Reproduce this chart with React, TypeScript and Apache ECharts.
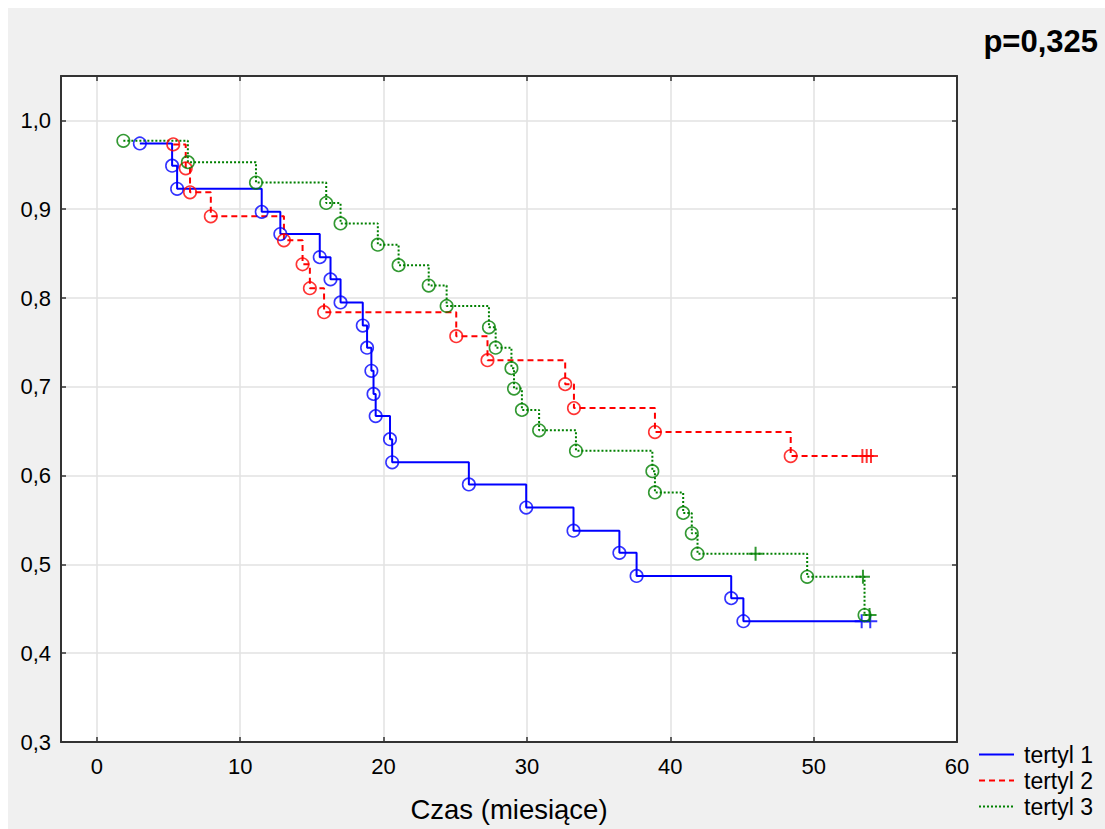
import React, { useEffect, useRef } from "react";
import * as echarts from "echarts";

const FONT = "'Liberation Sans', Arial, sans-serif";

const xTicks = [0, 10, 20, 30, 40, 50, 60];
const yTicks = [0.3, 0.4, 0.5, 0.6, 0.7, 0.8, 0.9, 1.0];

const seriesNames = ["tertyl 1", "tertyl 2", "tertyl 3"];

// tertyl 1 (blue, solid)
const t1EventTimes = [3.0, 5.25, 5.6, 11.5, 12.8, 15.55, 16.3, 17.0, 18.55, 18.85, 19.15, 19.3, 19.45, 20.45, 20.6, 25.95, 29.95, 33.25, 36.45, 37.65, 44.25, 45.1];
const t1EventSurv = [0.974, 0.949, 0.923, 0.897, 0.872, 0.846, 0.821, 0.795, 0.769, 0.744, 0.718, 0.692, 0.667, 0.641, 0.615, 0.59, 0.564, 0.538, 0.513, 0.487, 0.462, 0.436];
const t1CensTimes = [53.35, 53.95];
const t1CensSurv = [0.436, 0.436];

// tertyl 2 (red, dashed)
const t2EventTimes = [5.33, 6.2, 6.5, 7.95, 13.05, 14.35, 14.86, 15.85, 25.07, 27.25, 32.67, 33.28, 38.93, 48.4];
const t2EventSurv = [0.973, 0.946, 0.919, 0.892, 0.865, 0.838, 0.811, 0.784, 0.757, 0.73, 0.703, 0.676, 0.649, 0.622];
const t2CensTimes = [53.4, 53.7, 54.0];
const t2CensSurv = [0.622, 0.622, 0.622];

// tertyl 3 (green, dotted)
const t3EventTimes = [1.85, 6.35, 11.1, 16.0, 17.0, 19.6, 21.05, 23.15, 24.4, 27.35, 27.82, 28.92, 29.1, 29.65, 30.85, 33.42, 38.75, 38.93, 40.9, 41.5, 41.9, 49.55, 53.55];
const t3EventSurv = [0.977, 0.953, 0.93, 0.907, 0.884, 0.86, 0.837, 0.814, 0.791, 0.767, 0.744, 0.721, 0.698, 0.674, 0.651, 0.628, 0.605, 0.581, 0.558, 0.535, 0.512, 0.486, 0.443];
const t3CensTimes = [45.95, 53.44, 53.9];
const t3CensSurv = [0.512, 0.486, 0.443];

const colors = ["#0000ff", "#ff0000", "#008000"];
const lineTypes: any[] = ["solid", [6, 4], [2, 2]];

const PLUS = "path://M6,0h2v6h6v2h-6v6h-2v-6h-6v-2h6z";

const groups = [
  { ev: [t1EventTimes, t1EventSurv], ce: [t1CensTimes, t1CensSurv] },
  { ev: [t2EventTimes, t2EventSurv], ce: [t2CensTimes, t2CensSurv] },
  { ev: [t3EventTimes, t3EventSurv], ce: [t3CensTimes, t3CensSurv] },
];

const fmt = (v: number) => v.toFixed(1).replace(".", ",");

export default function App() {
  const ref = useRef<HTMLDivElement>(null);
  useEffect(() => {
    const chart = echarts.init(ref.current!, null, { renderer: "svg" });
    const series: any[] = [];
    groups.forEach((g, i) => {
      const ev = g.ev[0].map((t, k) => [t, g.ev[1][k]]);
      const ce = g.ce[0].map((t, k) => [t, g.ce[1][k]]);
      const merged = [...ev, ...ce].sort((a, b) => a[0] - b[0]);
      series.push({
        type: "line",
        name: seriesNames[i],
        step: "end",
        symbol: "none",
        data: merged,
        lineStyle: { color: colors[i], width: 2, type: lineTypes[i] },
        itemStyle: { color: colors[i] },
        silent: true,
        z: 3,
      });
      series.push({
        type: "scatter",
        name: seriesNames[i] + " events",
        symbol: "circle",
        symbolSize: 12.5,
        data: ev,
        itemStyle: { color: "rgba(0,0,0,0)", borderColor: colors[i], borderWidth: 1.6 },
        silent: true,
        z: 4,
      });
      series.push({
        type: "scatter",
        name: seriesNames[i] + " censored",
        symbol: PLUS,
        symbolSize: 14,
        data: ce,
        itemStyle: { color: colors[i] },
        silent: true,
        z: 4,
      });
    });

    const axisLine = { onZero: false, lineStyle: { color: "#333", width: 2 } };
    const option: any = {
      animation: false,
      backgroundColor: "#f0f0f0",
      textStyle: { fontFamily: FONT },
      grid: {
        left: 53,
        top: 68,
        width: 896,
        height: 666,
        show: true,
        backgroundColor: "#ffffff",
        borderWidth: 0,
      },
      legend: {
        data: seriesNames,
        orient: "vertical",
        left: 970,
        top: 735,
        padding: 0,
        itemWidth: 35,
        itemHeight: 14,
        itemGap: 3,
        selectedMode: false,
        itemStyle: { color: "rgba(0,0,0,0)", borderColor: "rgba(0,0,0,0)", borderWidth: 0, opacity: 0 },
        textStyle: { fontSize: 23, color: "#000", fontFamily: FONT, padding: [0, 0, 0, 5], lineHeight: 23 },
      },
      xAxis: [
        {
          type: "value",
          min: -2.5,
          max: 60,
          position: "bottom",
          axisLine,
          axisTick: { inside: true, length: 5, customValues: xTicks, lineStyle: { color: "#333", width: 1.5 } },
          axisLabel: { customValues: xTicks, fontSize: 22, color: "#000", margin: 13, fontFamily: FONT },
          splitLine: { show: true, lineStyle: { color: "#e2e2e2", width: 1.5 } },
          name: "Czas (miesiące)",
          nameLocation: "middle",
          nameGap: 53,
          nameTextStyle: { fontSize: 27.5, color: "#000", fontFamily: FONT },
        },
        {
          type: "value",
          min: -2.5,
          max: 60,
          position: "top",
          axisLine,
          axisTick: { inside: true, length: 5, customValues: xTicks, lineStyle: { color: "#333", width: 1.5 } },
          axisLabel: { show: false },
          splitLine: { show: false },
        },
      ],
      yAxis: [
        {
          type: "value",
          min: 0.3,
          max: 1.05,
          position: "left",
          axisLine,
          axisTick: { inside: true, length: 5, customValues: yTicks, lineStyle: { color: "#333", width: 1.5 } },
          axisLabel: { customValues: yTicks, fontSize: 22, color: "#000", margin: 10, fontFamily: FONT, formatter: fmt },
          splitLine: { show: true, lineStyle: { color: "#e2e2e2", width: 1.5 } },
        },
        {
          type: "value",
          min: 0.3,
          max: 1.05,
          position: "right",
          axisLine,
          axisTick: { inside: true, length: 5, customValues: yTicks, lineStyle: { color: "#333", width: 1.5 } },
          axisLabel: { show: false },
          splitLine: { show: false },
        },
      ],
      graphic: [
        {
          type: "text",
          right: 7,
          top: 18,
          style: {
            text: "p=0,325",
            font: `bold 31px ${FONT}`,
            fill: "#000",
          },
        },
      ],
      series,
    };
    chart.setOption(option);
    return () => chart.dispose();
  }, []);
  return (
    <div
      ref={ref}
      style={{ position: "absolute", left: 8, top: 8, width: 1097, height: 821 }}
    />
  );
}
